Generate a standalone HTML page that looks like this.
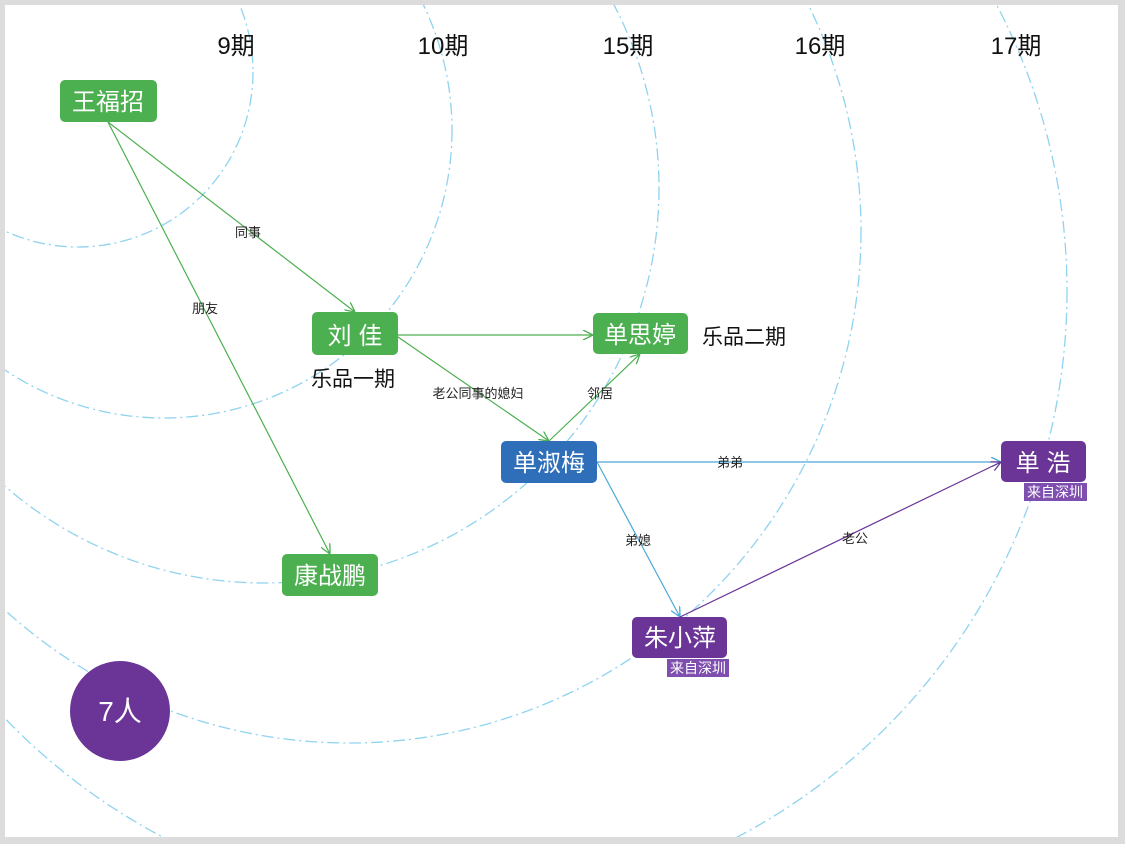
<!DOCTYPE html>
<html><head><meta charset="utf-8"><style>
body{margin:0;width:1125px;height:844px;background:#dcdcdc;overflow:hidden;font-family:"Liberation Sans","Noto Sans CJK SC",sans-serif}
</style></head><body>
<svg width="1125" height="844" xmlns="http://www.w3.org/2000/svg" style="position:absolute;left:0;top:0">
<defs>
<clipPath id="c"><rect x="5" y="5" width="1113" height="832"/></clipPath>
<marker id="ag" viewBox="0 0 10 10" refX="10" refY="5" markerWidth="10" markerHeight="10" orient="auto" markerUnits="userSpaceOnUse"><path d="M0,0 L10,5 L0,10" fill="none" stroke="#4caf50" stroke-width="1.3"/></marker>
<marker id="ab" viewBox="0 0 10 10" refX="10" refY="5" markerWidth="10" markerHeight="10" orient="auto" markerUnits="userSpaceOnUse"><path d="M0,0 L10,5 L0,10" fill="none" stroke="#4aa8d8" stroke-width="1.3"/></marker>
<marker id="ap" viewBox="0 0 10 10" refX="10" refY="5" markerWidth="10" markerHeight="10" orient="auto" markerUnits="userSpaceOnUse"><path d="M0,0 L10,5 L0,10" fill="none" stroke="#6a3596" stroke-width="1.3"/></marker>
</defs>
<rect x="5" y="5" width="1113" height="832" fill="#fff"/>
<g clip-path="url(#c)" fill="none" stroke="#8fd3f0" stroke-width="1.3" stroke-dasharray="12 4 2 4">
<circle cx="78" cy="72" r="175"/>
<circle cx="164" cy="130" r="288"/>
<circle cx="264" cy="188" r="395"/>
<circle cx="349" cy="231" r="512"/>
<circle cx="450" cy="291" r="617"/>
</g>
<g font-size="24" fill="#111" text-anchor="middle">
<text x="236" y="54">9期</text><text x="443" y="54">10期</text><text x="628" y="54">15期</text><text x="820" y="54">16期</text><text x="1016" y="54">17期</text>
</g>
<g stroke-width="1.2" fill="none">
<line x1="108" y1="122" x2="355" y2="312" stroke="#4caf50" marker-end="url(#ag)"/>
<line x1="108" y1="122" x2="330" y2="554" stroke="#4caf50" marker-end="url(#ag)"/>
<line x1="398" y1="335" x2="593" y2="335" stroke="#4caf50" marker-end="url(#ag)"/>
<line x1="398" y1="337" x2="549" y2="441" stroke="#4caf50" marker-end="url(#ag)"/>
<line x1="549" y1="441" x2="640" y2="354" stroke="#4caf50" marker-end="url(#ag)"/>
<line x1="597" y1="462" x2="1001" y2="462" stroke="#4aa8d8" marker-end="url(#ab)"/>
<line x1="597" y1="462" x2="680" y2="617" stroke="#4aa8d8" marker-end="url(#ab)"/>
<line x1="680" y1="617" x2="1001" y2="462" stroke="#6a3596" marker-end="url(#ap)"/>
</g>
<g font-size="13" fill="#222" text-anchor="middle">
<text x="248" y="237">同事</text><text x="205" y="313">朋友</text>
<text x="478" y="398">老公同事的媳妇</text><text x="600" y="398">邻居</text>
<text x="730" y="467">弟弟</text><text x="638" y="545">弟媳</text><text x="855" y="543">老公</text>
</g>
<g>
<rect x="60" y="80" width="97" height="42" rx="5" fill="#4caf50"/>
<rect x="312" y="312" width="86" height="43" rx="5" fill="#4caf50"/>
<rect x="593" y="313" width="95" height="41" rx="5" fill="#4caf50"/>
<rect x="501" y="441" width="96" height="42" rx="5" fill="#2f6fba"/>
<rect x="282" y="554" width="96" height="42" rx="5" fill="#4caf50"/>
<rect x="1001" y="441" width="85" height="41" rx="5" fill="#6a3596"/>
<rect x="1024" y="483" width="63" height="18" fill="#7e4fae"/>
<rect x="632" y="617" width="95" height="41" rx="5" fill="#6a3596"/>
<rect x="667" y="659" width="62" height="18" fill="#7e4fae"/>
<circle cx="120" cy="711" r="50" fill="#6a3596"/>
</g>
<g font-size="24" fill="#fff" text-anchor="middle">
<text x="108" y="110">王福招</text>
<text x="355" y="344">刘 佳</text>
<text x="640" y="343">单思婷</text>
<text x="549" y="471">单淑梅</text>
<text x="330" y="584">康战鹏</text>
<text x="1043" y="471">单 浩</text>
<text x="680" y="646">朱小萍</text>
<text x="120" y="721" font-size="28">7人</text>
</g>
<g font-size="14" fill="#fff" text-anchor="middle">
<text x="1055" y="497">来自深圳</text><text x="698" y="673">来自深圳</text>
</g>
<g font-size="21" fill="#111" text-anchor="middle">
<text x="353" y="386">乐品一期</text><text x="744" y="344">乐品二期</text>
</g>
</svg>
</body></html>
